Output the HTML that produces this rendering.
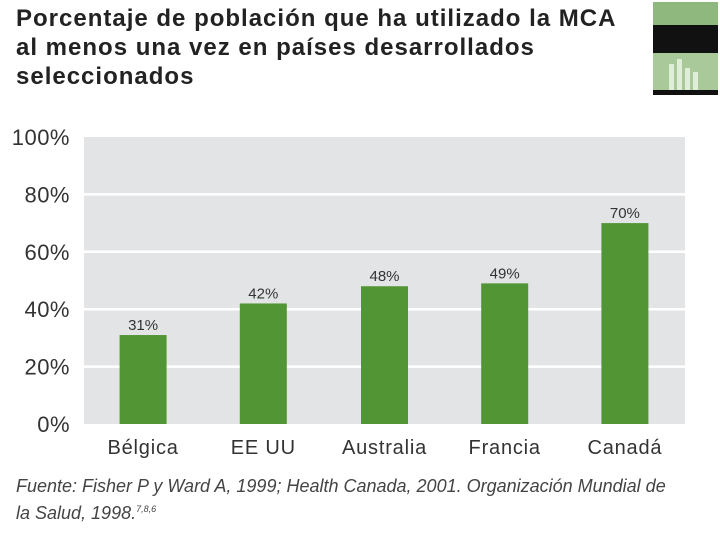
<!DOCTYPE html>
<html><head><meta charset="utf-8"><style>
body{margin:0;width:720px;height:540px;background:#fff;overflow:hidden;position:relative;font-family:"Liberation Sans","DejaVu Sans",sans-serif}
.t{position:absolute;left:16px;top:4px;font-size:24px;font-weight:bold;color:#222;line-height:29px;letter-spacing:1px}
.src{position:absolute;left:16px;top:475px;font-size:18px;font-style:italic;color:#444;line-height:23px}
</style></head><body>
<div class="t">Porcentaje de población que ha utilizado la MCA<br>al menos una vez en países desarrollados<br>seleccionados</div>
<div style="position:absolute;left:653px;top:2px;width:65px;height:93px;background:#a9c99a">
<div style="position:absolute;left:0;top:0;width:65px;height:23px;background:#8fb87e"></div>
<div style="position:absolute;left:0;top:23px;width:65px;height:28px;background:#111"></div>
<div style="position:absolute;left:0;top:88px;width:65px;height:5px;background:#111"></div>
<div style="position:absolute;left:16px;top:62px;width:5px;height:26px;background:#dfeed6"></div>
<div style="position:absolute;left:24px;top:57px;width:5px;height:31px;background:#dfeed6"></div>
<div style="position:absolute;left:32px;top:66px;width:5px;height:22px;background:#dfeed6"></div>
<div style="position:absolute;left:40px;top:70px;width:5px;height:18px;background:#dfeed6"></div>
</div>
<svg id="c" width="720" height="540" style="position:absolute;left:0;top:0"></svg>
<div class="src">Fuente: Fisher P y Ward A, 1999; Health Canada, 2001. Organización Mundial de<br>la Salud, 1998.<sup style="font-size:9px">7,8,6</sup></div>
<script>
const categories=["Bélgica","EE UU","Australia","Francia","Canadá"];
const values=[31,42,48,49,70];
const ticks=[0,20,40,60,80,100];
const NS="http://www.w3.org/2000/svg";
const svg=document.getElementById('c');
const X0=84,X1=685,Y0=424,Y1=137;
const y=v=>Y0-(v/100)*(Y0-Y1);
const step=(X1-X0)/categories.length;
const xc=i=>X0+step*(i+0.5)-(i<2?1:0);
function mk(t,a){const e=document.createElementNS(NS,t);for(const k in a)e.setAttribute(k,a[k]);svg.appendChild(e);return e;}
const bg=mk('rect',{x:X0,y:Y1,width:X1-X0,height:Y0-Y1,fill:'#e3e4e6'});


ticks.forEach(t=>{
 if(t>0&&t<100){const g=mk('line',{x1:X0,x2:X1,y1:y(t),y2:y(t),stroke:'#fff','stroke-width':2.5});
 
 }
 const l=mk('text',{x:70,y:y(t)+8,'text-anchor':'end','font-size':22,'letter-spacing':0.5,fill:'#333'});l.textContent=t+'%';
 
 
});
categories.forEach((c,i)=>{
 const w=47;
 const b=mk('rect',{x:xc(i)-w/2,y:y(values[i]),width:w,height:Y0-y(values[i]),fill:'#529534'});
 
 
 const v=mk('text',{x:xc(i),y:y(values[i])-5,'text-anchor':'middle','font-size':15,fill:'#333'});v.textContent=values[i]+'%';
 
 
 const l=mk('text',{x:xc(i),y:454,'text-anchor':'middle','font-size':20,'letter-spacing':0.8,fill:'#333'});l.textContent=c;
 
 
});
</script>
</body></html>
